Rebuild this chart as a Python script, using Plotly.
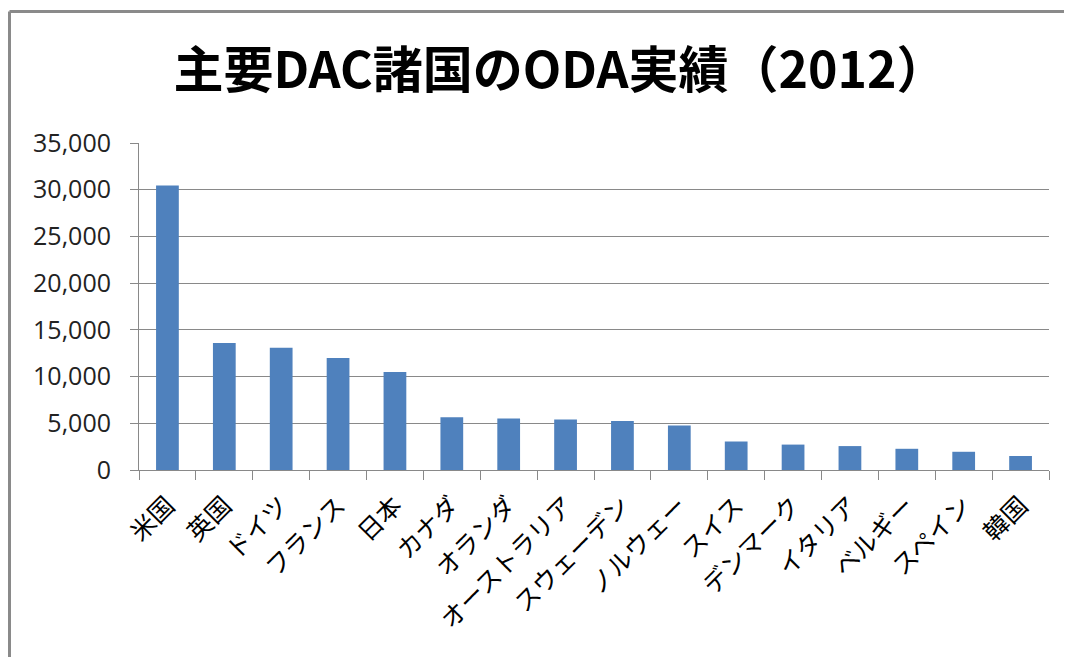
import plotly.graph_objects as go

countries = ["米国", "英国", "ドイツ", "フランス", "日本", "カナダ", "オランダ", "オーストラリア",
             "スウェーデン", "ノルウェー", "スイス", "デンマーク", "イタリア", "ベルギー", "スペイン", "韓国"]
oda = [30460, 13600, 13080, 12000, 10490, 5650, 5520, 5400, 5240, 4750, 3050, 2720, 2560, 2270, 1950, 1500]
y_ticks = [0, 5000, 10000, 15000, 20000, 25000, 30000, 35000]
y_tick_labels = ["0", "5,000", "10,000", "15,000", "20,000", "25,000", "30,000", "35,000"]
title_text = "主要DAC諸国のODA実績（2012）"

# page body has an 8px margin, so the figure is sized/offset to compensate
W, H = 1064, 649
L, T = 131, 135
PW, PH = 910, 327
R, B = W - L - PW, H - T - PH

fig = go.Figure(go.Bar(
    x=countries, y=oda,
    marker=dict(color="#4F81BD", line=dict(width=0)),
))

fig.update_layout(
    width=W, height=H,
    margin=dict(l=L, r=R, t=T, b=B, pad=0),
    paper_bgcolor="white", plot_bgcolor="white",
    bargap=0.6,
    showlegend=False,
    title=dict(text=title_text, x=552 / W, xanchor="center", y=1 - 62 / H, yanchor="middle",
               font=dict(family="Noto Sans CJK JP", size=50, color="black", weight="bold")),
    font=dict(family="Noto Sans CJK JP", color="black"),
)

fig.update_xaxes(
    type="category", tickangle=-45, tickson="boundaries",
    ticks="outside", ticklen=9, tickcolor="#898989", tickwidth=1,
    showline=True, linecolor="#898989", linewidth=1,
    showgrid=False, ticklabelstandoff=10,
    tickfont=dict(family="Noto Sans CJK JP", size=25, color="black"),
)
fig.update_yaxes(
    range=[0, 35000], tickvals=y_ticks, ticktext=y_tick_labels,
    ticks="outside", ticklen=8, tickcolor="#898989",
    showline=True, linecolor="#898989", linewidth=1,
    showgrid=True, gridcolor="#898989", gridwidth=1,
    zeroline=False, ticklabelstandoff=14,
    tickfont=dict(family="Open Sans", size=25, color="#222222"),
)

# outer chart-area frame (top and left edges visible)
fx = (1.5 - L) / PW
fy = 1 + (T - 3.5) / PH
fig.add_shape(type="line", xref="paper", yref="paper", x0=fx, x1=(W + 5 - L) / PW, y0=fy, y1=fy,
              line=dict(color="#8a8a8a", width=3))
fig.add_shape(type="line", xref="paper", yref="paper", x0=fx, x1=fx, y0=fy, y1=-(B + 5) / PH,
              line=dict(color="#8a8a8a", width=3))

fig.write_html("out.html")
